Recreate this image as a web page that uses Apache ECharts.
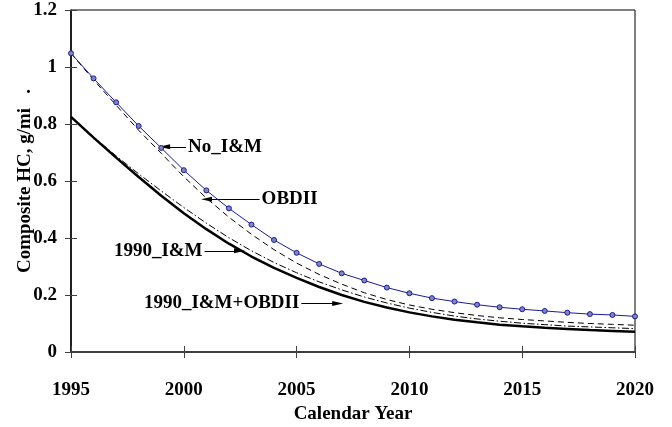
<!DOCTYPE html>
<html><head><meta charset="utf-8">
<script src="https://cdn.jsdelivr.net/npm/echarts@6/dist/echarts.min.js"></script>
<style>html,body{margin:0;padding:0;background:#fff}#c{width:672px;height:427px}</style>
</head><body><div id="c"></div>
<script>
const years = [1995,1996,1997,1998,1999,2000,2001,2002,2003,2004,2005,2006,2007,2008,2009,2010,2011,2012,2013,2014,2015,2016,2017,2018,2019,2020];
const noIM   = [1.048,0.960,0.876,0.793,0.716,0.638,0.567,0.504,0.447,0.393,0.348,0.309,0.276,0.251,0.226,0.206,0.189,0.177,0.166,0.157,0.150,0.144,0.138,0.133,0.130,0.125];
const obd2   = [1.048,0.955,0.866,0.778,0.697,0.615,0.540,0.473,0.413,0.359,0.312,0.272,0.238,0.208,0.184,0.165,0.150,0.138,0.128,0.120,0.114,0.109,0.104,0.100,0.097,0.094];
const im1990 = [0.825,0.755,0.688,0.625,0.565,0.507,0.452,0.401,0.355,0.314,0.278,0.246,0.218,0.193,0.172,0.154,0.139,0.126,0.116,0.108,0.101,0.096,0.091,0.088,0.085,0.082];
const imObd  = [0.825,0.752,0.682,0.614,0.548,0.487,0.431,0.380,0.335,0.295,0.260,0.228,0.200,0.176,0.156,0.139,0.125,0.113,0.104,0.096,0.090,0.085,0.081,0.077,0.074,0.071];
const seriesNames = ['No_I&M','OBDII','1990_I&M','1990_I&M+OBDII'];
const xAxisTitle = 'Calendar Year';
const yAxisTitle = 'Composite HC, g/mi   .';
// annotation arrows in data units: arrow-tip end and tail end
const annTip  = [[1999.15,0.72],[2001.01,0.536],[2002.47,0.355],[2006.82,0.170]];
const annTail = [[2000.10,0.72],[2003.36,0.536],[2000.92,0.355],[2005.21,0.170]];

const font = '"Liberation Serif","Times New Roman",serif';
const toPairs = v => years.map((y,i)=>[y,v[i]]);

function ann(i, textLeft, padTop){
  const tipPt = {coord: annTip[i], symbol:'triangle', symbolSize:[5,11]};
  const tailPt = {coord: annTail[i], symbol:'none'};
  const lbl = {show:true, formatter: seriesNames[i], fontFamily:font, fontWeight:'bold', fontSize:19, color:'#000', distance:2, padding:[padTop,0,0,0]};
  let pair;
  if (textLeft) { pair = [Object.assign({}, tailPt), Object.assign({}, tipPt)]; lbl.position='start'; }
  else { pair = [Object.assign({}, tipPt), Object.assign({}, tailPt)]; lbl.position='end'; }
  return {silent:true, animation:false, symbol:['none','none'], lineStyle:{color:'#000', width:1, type:'solid'}, label:lbl, emphasis:{disabled:true}, data:[pair]};
}

const axisFont = {fontFamily:font, fontWeight:'bold', fontSize:19, color:'#000'};
const chart = echarts.init(document.getElementById('c'), null, {renderer:'canvas'});
chart.setOption({
  animation:false,
  backgroundColor:'#fff',
  grid:{left:71, right:37, top:10, bottom:75, show:true, borderColor:'#000', borderWidth:1, outerBoundsMode:'none'},
  xAxis:[
    {type:'value', min:1995, max:2020, interval:5,
     axisLine:{lineStyle:{color:'#404040', width:2}},
     axisTick:{show:true, inside:false, length:6, lineStyle:{color:'#404040', width:1}},
     axisLabel:Object.assign({margin:29, formatter: v => String(v)}, axisFont),
     splitLine:{show:false},
     name:xAxisTitle, nameLocation:'middle', nameGap:53, nameMoveOverlap:false,
     nameTextStyle:Object.assign({}, axisFont)},
    {type:'value', min:1995, max:2020, interval:5, position:'bottom',
     axisLine:{show:false}, axisTick:{show:true, inside:true, length:6, lineStyle:{color:'#404040', width:1}},
     axisLabel:{show:false}, splitLine:{show:false}}
  ],
  yAxis:[
    {type:'value', min:0, max:1.2, interval:0.2,
     axisLine:{show:true, lineStyle:{color:'#000', width:1.5}},
     axisTick:{show:true, inside:false, length:6, lineStyle:{color:'#404040', width:1}},
     axisLabel:Object.assign({margin:14, padding:[8,0,0,0]}, axisFont),
     splitLine:{show:false},
     name:yAxisTitle, nameLocation:'middle', nameGap:36, nameRotate:90, nameMoveOverlap:false,
     nameTextStyle:Object.assign({}, axisFont)},
    {type:'value', min:0, max:1.2, interval:0.2, position:'left', offset:0,
     axisLine:{show:false}, axisTick:{show:true, inside:true, length:6, lineStyle:{color:'#404040', width:1}},
     axisLabel:{show:false}, splitLine:{show:false}}
  ],
  series:[
    {name:seriesNames[0], type:'line', data:toPairs(noIM), symbol:'circle', symbolSize:5, showSymbol:true,
     lineStyle:{color:'#1a1a9c', width:1}, itemStyle:{color:'#7f86bd', borderColor:'#1a1a9c', borderWidth:1},
     markLine:ann(0,false,8), z:5},
    {name:seriesNames[1], type:'line', data:toPairs(obd2), symbol:'none',
     lineStyle:{color:'#000', width:1, type:[6,4]}, markLine:ann(1,false,8)},
    {name:seriesNames[2], type:'line', data:toPairs(im1990), symbol:'none',
     lineStyle:{color:'#000', width:1, type:[7,2.5,1.5,2.5]}, markLine:ann(2,true,10)},
    {name:seriesNames[3], type:'line', data:toPairs(imObd), symbol:'none',
     lineStyle:{color:'#000', width:2.5}, markLine:ann(3,true,0)}
  ]
});
</script></body></html>
